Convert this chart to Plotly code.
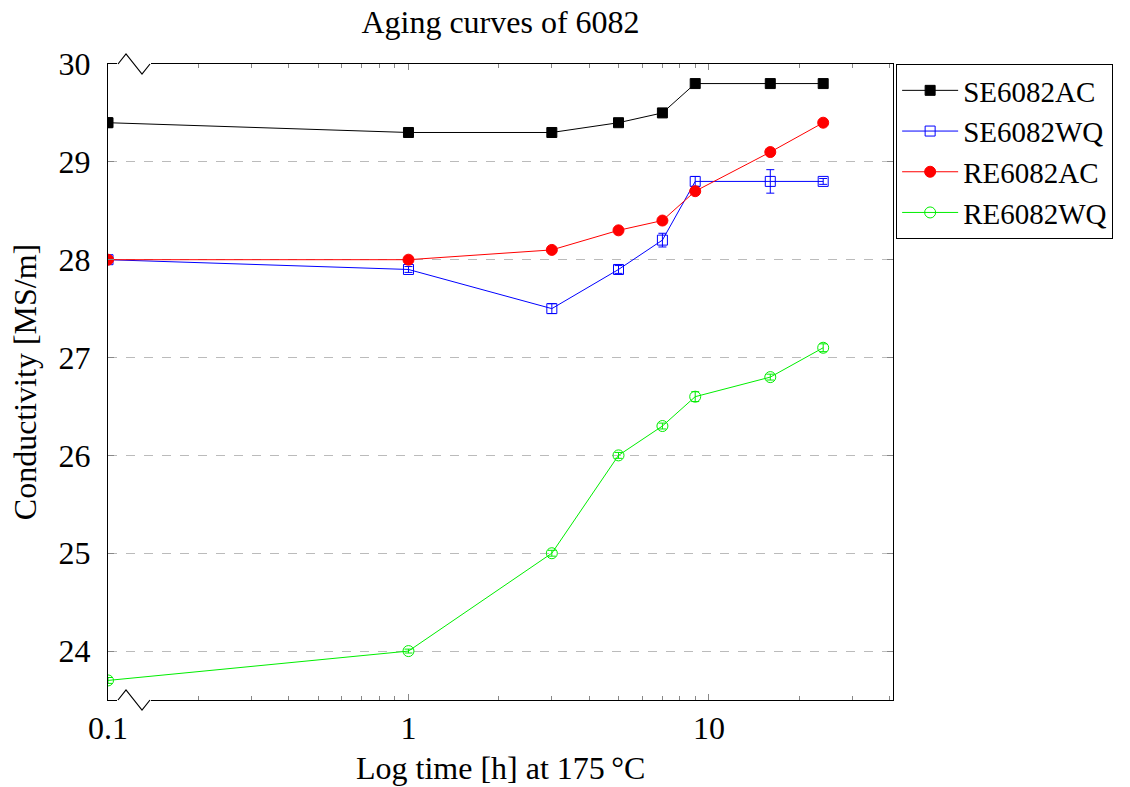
import plotly.graph_objects as go

times = [0.1, 1, 3, 5, 7, 9, 16, 24]
se_ac = [29.4, 29.3, 29.3, 29.4, 29.5, 29.8, 29.8, 29.8]
se_ac_err = [0.05, 0.02, 0.02, 0.02, 0.02, 0.02, 0.02, 0.02]
se_wq = [28.0, 27.9, 27.5, 27.9, 28.2, 28.8, 28.8, 28.8]
se_wq_err = [0.03, 0.03, 0.05, 0.04, 0.07, 0.05, 0.12, 0.03]
re_ac = [28.0, 28.0, 28.1, 28.3, 28.4, 28.7, 29.1, 29.4]
re_ac_err = [0.02, 0.03, 0.02, 0.02, 0.02, 0.02, 0.02, 0.02]
re_wq = [23.7, 24.0, 25.0, 26.0, 26.3, 26.6, 26.8, 27.1]
re_wq_err = [0.03, 0.02, 0.03, 0.03, 0.03, 0.05, 0.03, 0.04]

series = [
    ("SE6082AC", se_ac, se_ac_err, "black", "square", 10),
    ("SE6082WQ", se_wq, se_wq_err, "blue", "square-open", 10),
    ("RE6082AC", re_ac, re_ac_err, "red", "circle", 11),
    ("RE6082WQ", re_wq, re_wq_err, "#00ee00", "circle-open", 11),
]

FONT = "Liberation Serif, Times New Roman, serif"
FS = 32

fig = go.Figure()
for name, ys, errs, color, sym, size in series:
    fig.add_trace(go.Scatter(
        x=times, y=ys, name=name, mode="lines+markers",
        line=dict(color=color, width=1),
        marker=dict(symbol=sym, size=size, color=color, line=dict(color=color, width=1)),
        error_y=dict(type="data", array=errs, visible=True, color=color, thickness=1, width=4),
    ))

minor_vals = [0.2, 0.3, 0.4, 0.5, 0.6, 0.7, 0.8, 0.9, 2, 3, 4, 5, 6, 7, 8, 9, 20, 30, 40]

W, H = 785.0, 636.0

fig.update_layout(
    width=1130, height=787,
    margin=dict(l=108, r=237, t=64, b=87, autoexpand=False),
    paper_bgcolor="white", plot_bgcolor="white",
    font=dict(family=FONT, size=FS, color="black"),
    title=dict(text="Aging curves of 6082", x=0.5, xref="paper", xanchor="center",
               y=1 - 22 / 787, yref="container", yanchor="middle", font=dict(family=FONT, size=FS)),
    showlegend=True,
    legend=dict(x=1.004, y=1.0, xanchor="left", yanchor="top",
                bordercolor="black", borderwidth=1, bgcolor="white",
                font=dict(family=FONT, size=29), tracegroupgap=0, itemwidth=56),
    xaxis=dict(
        type="log", range=[-1, 1.6125],
        tickvals=[0.1, 1, 10], ticktext=["0.1", "1", "10"],
        ticks="inside", ticklen=6, tickcolor="#888", tickwidth=1,
        minor=dict(tickvals=minor_vals, ticks="inside", ticklen=4, tickcolor="#888", tickwidth=1),
        showline=True, linecolor="black", linewidth=1, mirror="ticks",
        showgrid=False, zeroline=False, automargin=False,
        tickfont=dict(family=FONT, size=FS),
    ),
    yaxis=dict(
        range=[23.5, 30],
        tickvals=[24, 25, 26, 27, 28, 29, 30],
        ticks="inside", ticklen=6, tickcolor="#888", tickwidth=1,
        showline=True, linecolor="black", linewidth=1, mirror="ticks",
        showgrid=True, gridcolor="#bbbbbb", griddash="dash", gridwidth=1,
        zeroline=False, automargin=False,
        ticklabelstandoff=10,
        title=dict(text="Conductivity [MS/m]", standoff=12, font=dict(family=FONT, size=FS)),
        tickfont=dict(family=FONT, size=FS),
    ),
    annotations=[dict(text="Log time [h] at 175\u2009°C", xref="paper", yref="paper",
                      x=0.5, y=-(768 - 700) / H, xanchor="center", yanchor="middle",
                      showarrow=False, font=dict(family=FONT, size=FS))],
)

# axis-break zigzags (top and bottom)
def px(xp):
    return (xp - 108) / W
dy = 10 / H
shapes = []
for yb in (0.0, 1.0):
    shapes.append(dict(type="line", xref="paper", yref="paper", x0=px(117), x1=px(151),
                       y0=yb, y1=yb, line=dict(color="white", width=4), layer="above"))
    path = (f"M {px(118)},{yb} L {px(126)},{yb + dy} L {px(142)},{yb - dy} L {px(150)},{yb}")
    shapes.append(dict(type="path", xref="paper", yref="paper", path=path,
                       line=dict(color="black", width=1.2), layer="above"))
fig.update_layout(shapes=shapes)

fig.write_html("out.html")
